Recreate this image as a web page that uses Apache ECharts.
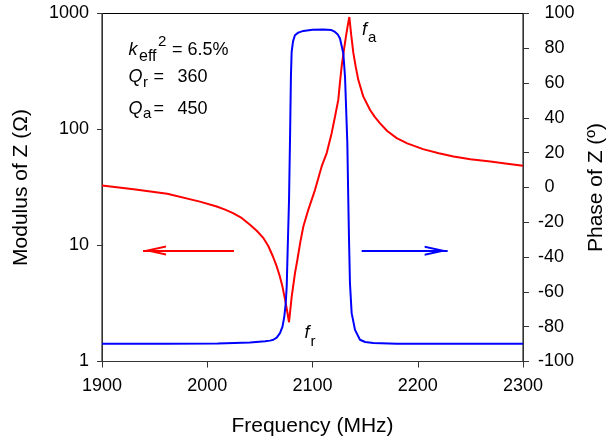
<!DOCTYPE html>
<html><head><meta charset="utf-8">
<script src="https://cdn.jsdelivr.net/npm/echarts@6/dist/echarts.min.js"></script>
<style>html,body{margin:0;padding:0;background:#fff}#c{width:609px;height:441px}</style>
</head><body><div id="c"></div>
<script>
// ---- data ----
const modFreq = [1900, 1930, 1962, 1993, 2009, 2017, 2024.5, 2033, 2040.6, 2047, 2053, 2058, 2062.5, 2066, 2069, 2071.5, 2074, 2076, 2077.7, 2080.2, 2083.4, 2085.6, 2088.5, 2091.3, 2096, 2102.4, 2108.7, 2113.5, 2118.2, 2121.4, 2124.5, 2126, 2127.7, 2129.8, 2131.8, 2133.5, 2135, 2136.8, 2138.8, 2141, 2143.5, 2148.2, 2154.6, 2159, 2164, 2171, 2180, 2190, 2205, 2220, 2234, 2250, 2269, 2285, 2300];
const modValues = [32.9, 30.5, 27.9, 23.9, 21.7, 20.4, 19.0, 17.2, 15.1, 13.4, 11.7, 9.9, 8.0, 6.6, 5.4, 4.4, 3.4, 2.7, 2.18, 3.6, 5.8, 7.5, 10.8, 14.6, 20.3, 30.2, 48, 62.6, 93, 129.5, 180, 250, 350, 480, 635, 790, 933, 650, 457, 350, 268, 193, 148, 129, 113.6, 97, 84.3, 76, 67.7, 62.5, 58.5, 55.5, 53, 50.7, 48.6];
const phaseFreq = [1900, 1960, 2010, 2040.6, 2055, 2059.6, 2062.8, 2066, 2069.1, 2071.5, 2073.2, 2074.5, 2075.5, 2076.4, 2077.7, 2078.7, 2079.5, 2080.2, 2081.5, 2083.3, 2086.5, 2091.3, 2100, 2110, 2118, 2121.4, 2124, 2126.1, 2129.3, 2130.9, 2133.1, 2134, 2134.7, 2135.6, 2137.2, 2140.4, 2145.1, 2150, 2157.8, 2180, 2300];
const phaseValues = [-89.8, -89.8, -89.7, -89.1, -88.4, -88, -87.5, -86.3, -83.7, -80, -74.2, -67, -56.9, -35.9, -7.2, 30, 64, 78, 84, 87.5, 89, 90, 90.7, 90.8, 90.5, 89.4, 88, 85.6, 77, 63.6, 25.4, -7.2, -30.1, -55, -72.2, -81.8, -87.5, -88.8, -89.4, -89.8, -89.8];
const xMin = 1900, xMax = 2300, xStep = 100;
const modTicks = [1, 10, 100, 1000];
const phaseMin = -100, phaseMax = 100, phaseStep = 20;
const redArrow = [[2025.4, 9.07], [1939, 9.07]];
const blueArrow = [[2146.7, -36.3], [2228.4, -36.3]];
const xName = 'Frequency (MHz)';
const leftName = 'Modulus of Z (Ω)';
const rightName = 'Phase of Z (º)';

// ---- chart ----
const FONT = '"Liberation Sans", Arial, Helvetica, sans-serif';
const RED = '#ff0000', BLUE = '#0000ff';
const chevron = 'path://M0,0 M46,46 M23,23 L28,46 L26,46 L23,32.2 L20,46 L18,46 Z';

const modData = modFreq.map((f, i) => [f, modValues[i]]);
const phaseData = phaseFreq.map((f, i) => [f, phaseValues[i]]);

function txt(s, x, y, size, italic) {
  return {
    type: 'text', x: x, y: y, silent: true, z: 100,
    style: {
      text: s, fill: '#000',
      font: (italic ? 'italic ' : '') + size + 'px ' + FONT,
      align: 'left', verticalAlign: 'middle'
    }
  };
}

const chart = echarts.init(document.getElementById('c'), null, {renderer: 'canvas'});
chart.setOption({
  animation: false,
  backgroundColor: '#fff',
  textStyle: {fontFamily: FONT},
  grid: {left: 102, right: 86, top: 13.5, bottom: 79.5, show: true, borderColor: '#000', borderWidth: 1, containLabel: false, outerBoundsMode: 'none'},
  xAxis: {
    type: 'value', min: xMin, max: xMax, interval: xStep,
    axisLine: {show: true, onZero: false, lineStyle: {color: '#333', width: 1}},
    axisTick: {show: true, inside: false, length: 6, lineStyle: {color: '#333'}},
    axisLabel: {fontSize: 18, color: '#000', margin: 16, fontFamily: FONT, formatter: v => String(v)},
    splitLine: {show: false},
    name: xName, nameLocation: 'middle', nameGap: 54,
    nameTextStyle: {fontSize: 21, color: '#000', fontFamily: FONT}
  },
  yAxis: [{
    type: 'log', logBase: 10, min: modTicks[0], max: modTicks[modTicks.length - 1], position: 'left',
    axisLine: {show: true, onZero: false, lineStyle: {color: '#333', width: 1}},
    axisTick: {show: true, inside: false, length: 5, lineStyle: {color: '#333'}},
    minorTick: {show: false},
    axisLabel: {fontSize: 18, color: '#000', margin: 13, fontFamily: FONT, formatter: v => String(v)},
    splitLine: {show: false},
    name: leftName, nameLocation: 'middle', nameGap: 70,
    nameTextStyle: {fontSize: 21, color: '#000', fontFamily: FONT}
  }, {
    type: 'value', min: phaseMin, max: phaseMax, interval: phaseStep, position: 'right',
    axisLine: {show: true, onZero: false, lineStyle: {color: '#333', width: 1}},
    axisTick: {show: true, inside: false, length: 6, lineStyle: {color: '#333'}},
    axisLabel: {
      margin: 15, align: 'left',
      formatter: v => v < 0 ? '{n|' + v + '}' : '{p|' + v + '}',
      rich: {
        n: {fontSize: 18, color: '#000', fontFamily: FONT},
        p: {fontSize: 18, color: '#000', fontFamily: FONT, padding: [0, 0, 0, 6.5]}
      }
    },
    splitLine: {show: false},
    name: rightName, nameLocation: 'middle', nameGap: 63,
    nameTextStyle: {fontSize: 21, color: '#000', fontFamily: FONT}
  }],
  series: [{
    type: 'line', name: 'modulus', yAxisIndex: 0, data: modData,
    showSymbol: false, symbol: 'none', smooth: false,
    lineStyle: {color: RED, width: 2}, itemStyle: {color: RED},
    silent: true, z: 2,
    markLine: {
      silent: true, animation: false, symbol: ['none', chevron], symbolSize: 46,
      label: {show: false}, lineStyle: {color: RED, width: 2, type: 'solid'},
      emphasis: {disabled: true},
      data: [[{coord: redArrow[0]}, {coord: redArrow[1]}]]
    }
  }, {
    type: 'line', name: 'phase', yAxisIndex: 1, data: phaseData,
    showSymbol: false, symbol: 'none', smooth: false,
    lineStyle: {color: BLUE, width: 2}, itemStyle: {color: BLUE},
    silent: true, z: 3,
    markLine: {
      silent: true, animation: false, symbol: ['none', chevron], symbolSize: 46,
      label: {show: false}, lineStyle: {color: BLUE, width: 2, type: 'solid'},
      emphasis: {disabled: true},
      data: [[{coord: blueArrow[0]}, {coord: blueArrow[1]}]]
    }
  }],
  graphic: [
    txt('k', 128.5, 50.4, 18, true), txt('eff', 139, 56.3, 16, false), txt('2', 158, 41.5, 15, false),
    txt('=', 172, 50.4, 18, false), txt('6.5%', 187.5, 50.4, 18, false),
    txt('Q', 128.5, 77, 18, true), txt('r', 143, 82.8, 15, false),
    txt('=', 153.5, 77, 18, false), txt('360', 177.5, 77, 18, false),
    txt('Q', 128.5, 108.7, 18, true), txt('a', 143, 114.3, 15, false),
    txt('=', 153.5, 108.7, 18, false), txt('450', 177.5, 108.7, 18, false),
    txt('f', 362, 30.4, 18, true), txt('a', 368, 38, 15, false),
    txt('f', 304.5, 333.2, 18, true), txt('r', 310.5, 341.4, 15, false)
  ]
});
</script></body></html>
